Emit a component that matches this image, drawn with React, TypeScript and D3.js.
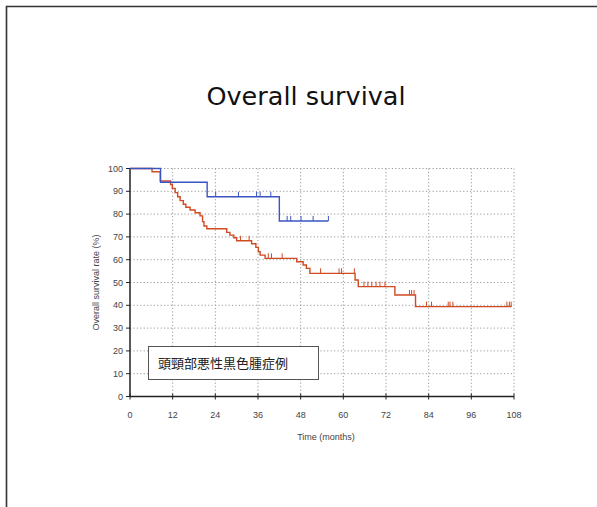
import * as d3 from "d3";

// Kaplan-Meier steps: [month, survival %]
const blueSteps: [number, number][] = [
  [0, 100], [8.6, 94], [21.7, 87.6], [42.0, 77],
];
const blueEnd = 55.8;
const blueCensors = [24.1, 30.5, 35.6, 36.6, 39.6, 44.2, 45.2, 48.1, 51.5, 55.8];

const redSteps: [number, number][] = [
  [0, 100], [6.2, 98.6], [8.5, 94.5], [11.4, 93], [11.9, 91.3], [12.7, 89.4],
  [13.4, 87.6], [14.1, 85.9], [15, 84.3], [15.7, 83], [16.9, 81.8], [18.3, 80.6],
  [19.7, 79.2], [20.4, 76.7], [20.8, 74.8], [21.6, 73.6], [27.2, 72], [28.1, 70.8],
  [29.2, 69.6], [30, 68.3], [34.2, 67], [35.4, 65.4], [36.1, 63.5], [36.6, 62],
  [38, 60.6], [46.9, 59.1], [48.7, 57.7], [49.6, 56.2], [50.6, 54], [63.3, 51.1],
  [64.2, 48.2], [74.5, 44.5], [80.3, 39.4],
];
const redEnd = 107.3;
const redCensors = [
  31.1, 33.5, 38.9, 39.8, 42.8, 53.6, 58.8, 59.5, 63.1, 65.8, 66.9, 68, 69.2,
  70.3, 71.7, 78.6, 79.2, 79.9, 83.4, 84.8, 89.5, 90, 90.8, 106, 106.7, 107.2,
];

const xTicks = [0, 12, 24, 36, 48, 60, 72, 84, 96, 108];
const yTicks = [0, 10, 20, 30, 40, 50, 60, 70, 80, 90, 100];

const TITLE = "Overall survival";
const X_LABEL = "Time (months)";
const Y_LABEL = "Overall survival rate (%)";
const LEGEND_TEXT = "頭頸部悪性黒色腫症例";

const COLORS = {
  blue: "#3a55c2",
  red: "#d04a22",
  grid: "#9a9a9a",
  axis: "#222",
  text: "#444",
};

const W = 597;
const H = 507;
const plot = { left: 130, right: 514, top: 168.5, bottom: 396.5 };

const x = d3.scaleLinear().domain([0, 108]).range([plot.left, plot.right]);
const y = d3.scaleLinear().domain([0, 100]).range([plot.bottom, plot.top]);

function survAt(steps: [number, number][], t: number) {
  let v = steps[0][1];
  for (const [m, s] of steps) if (m <= t) v = s;
  return v;
}

function Curve({ steps, end, censors, color }: {
  steps: [number, number][]; end: number; censors: number[]; color: string;
}) {
  const pts: [number, number][] = [...steps, [end, steps[steps.length - 1][1]]];
  const line = d3.line<[number, number]>()
    .x((d) => x(d[0]))
    .y((d) => y(d[1]))
    .curve(d3.curveStepAfter);
  return (
    <g>
      <path d={line(pts) ?? ""} fill="none" stroke={color} strokeWidth={1.4} />
      {censors.map((c, i) => {
        const yy = y(survAt(steps, c));
        return (
          <line key={i} x1={x(c)} x2={x(c)} y1={yy} y2={yy - 5}
            stroke={color} strokeWidth={1} />
        );
      })}
    </g>
  );
}

export default function App() {
  const font = "'Liberation Sans', Arial, sans-serif";
  return (
    <svg width={W} height={H} style={{ position: "absolute", left: 0, top: 0, background: "#fff" }}>
      {/* slide frame */}
      <path d={`M6.5,${H} V6.5 H${W}`} fill="none" stroke="#333" strokeWidth={1.6} />

      <text x={306} y={105} textAnchor="middle" fontFamily="'DejaVu Sans', sans-serif"
        fontSize={25.5} fill="#111">{TITLE}</text>

      {/* grid */}
      {yTicks.slice(1).map((t) => (
        <line key={`gy${t}`} x1={plot.left} x2={plot.right} y1={y(t)} y2={y(t)}
          stroke={COLORS.grid} strokeWidth={1} strokeDasharray="1.2,2.2" />
      ))}
      {xTicks.slice(1).map((t) => (
        <line key={`gx${t}`} x1={x(t)} x2={x(t)} y1={plot.top} y2={plot.bottom}
          stroke={COLORS.grid} strokeWidth={1} strokeDasharray="1.2,2.2" />
      ))}

      {/* axes */}
      <line x1={plot.left} x2={plot.left} y1={plot.top} y2={plot.bottom}
        stroke={COLORS.axis} strokeWidth={1.5} />
      <line x1={plot.left} x2={plot.right} y1={plot.bottom} y2={plot.bottom}
        stroke={COLORS.axis} strokeWidth={1.5} />
      {yTicks.map((t) => (
        <g key={`ty${t}`}>
          <line x1={plot.left - 4} x2={plot.left} y1={y(t)} y2={y(t)} stroke={COLORS.axis} />
          <text x={plot.left - 7} y={y(t)} dy="0.35em" textAnchor="end"
            fontFamily={font} fontSize={9} fill={COLORS.text}>{t}</text>
        </g>
      ))}
      {xTicks.map((t) => (
        <g key={`tx${t}`}>
          <line x1={x(t)} x2={x(t)} y1={plot.bottom - 3} y2={plot.bottom + 3} stroke={COLORS.axis} />
          <text x={x(t)} y={418} textAnchor="middle"
            fontFamily={font} fontSize={9} fill={COLORS.text}>{t}</text>
        </g>
      ))}
      <text x={326} y={440} textAnchor="middle" fontFamily={font} fontSize={9}
        fill={COLORS.text}>{X_LABEL}</text>
      <text transform={`translate(99,${(plot.top + plot.bottom) / 2}) rotate(-90)`}
        textAnchor="middle" fontFamily={font} fontSize={9} fill={COLORS.text}>{Y_LABEL}</text>

      <Curve steps={redSteps} end={redEnd} censors={redCensors} color={COLORS.red} />
      <Curve steps={blueSteps} end={blueEnd} censors={blueCensors} color={COLORS.blue} />

      {/* legend box */}
      <rect x={148.5} y={346.5} width={170} height={33} fill="#fff" stroke="#555" strokeWidth={1} />
      <text x={158} y={367.5} fontFamily="'Noto Sans CJK JP', sans-serif" fontSize={13}
        fill="#222">{LEGEND_TEXT}</text>
    </svg>
  );
}
